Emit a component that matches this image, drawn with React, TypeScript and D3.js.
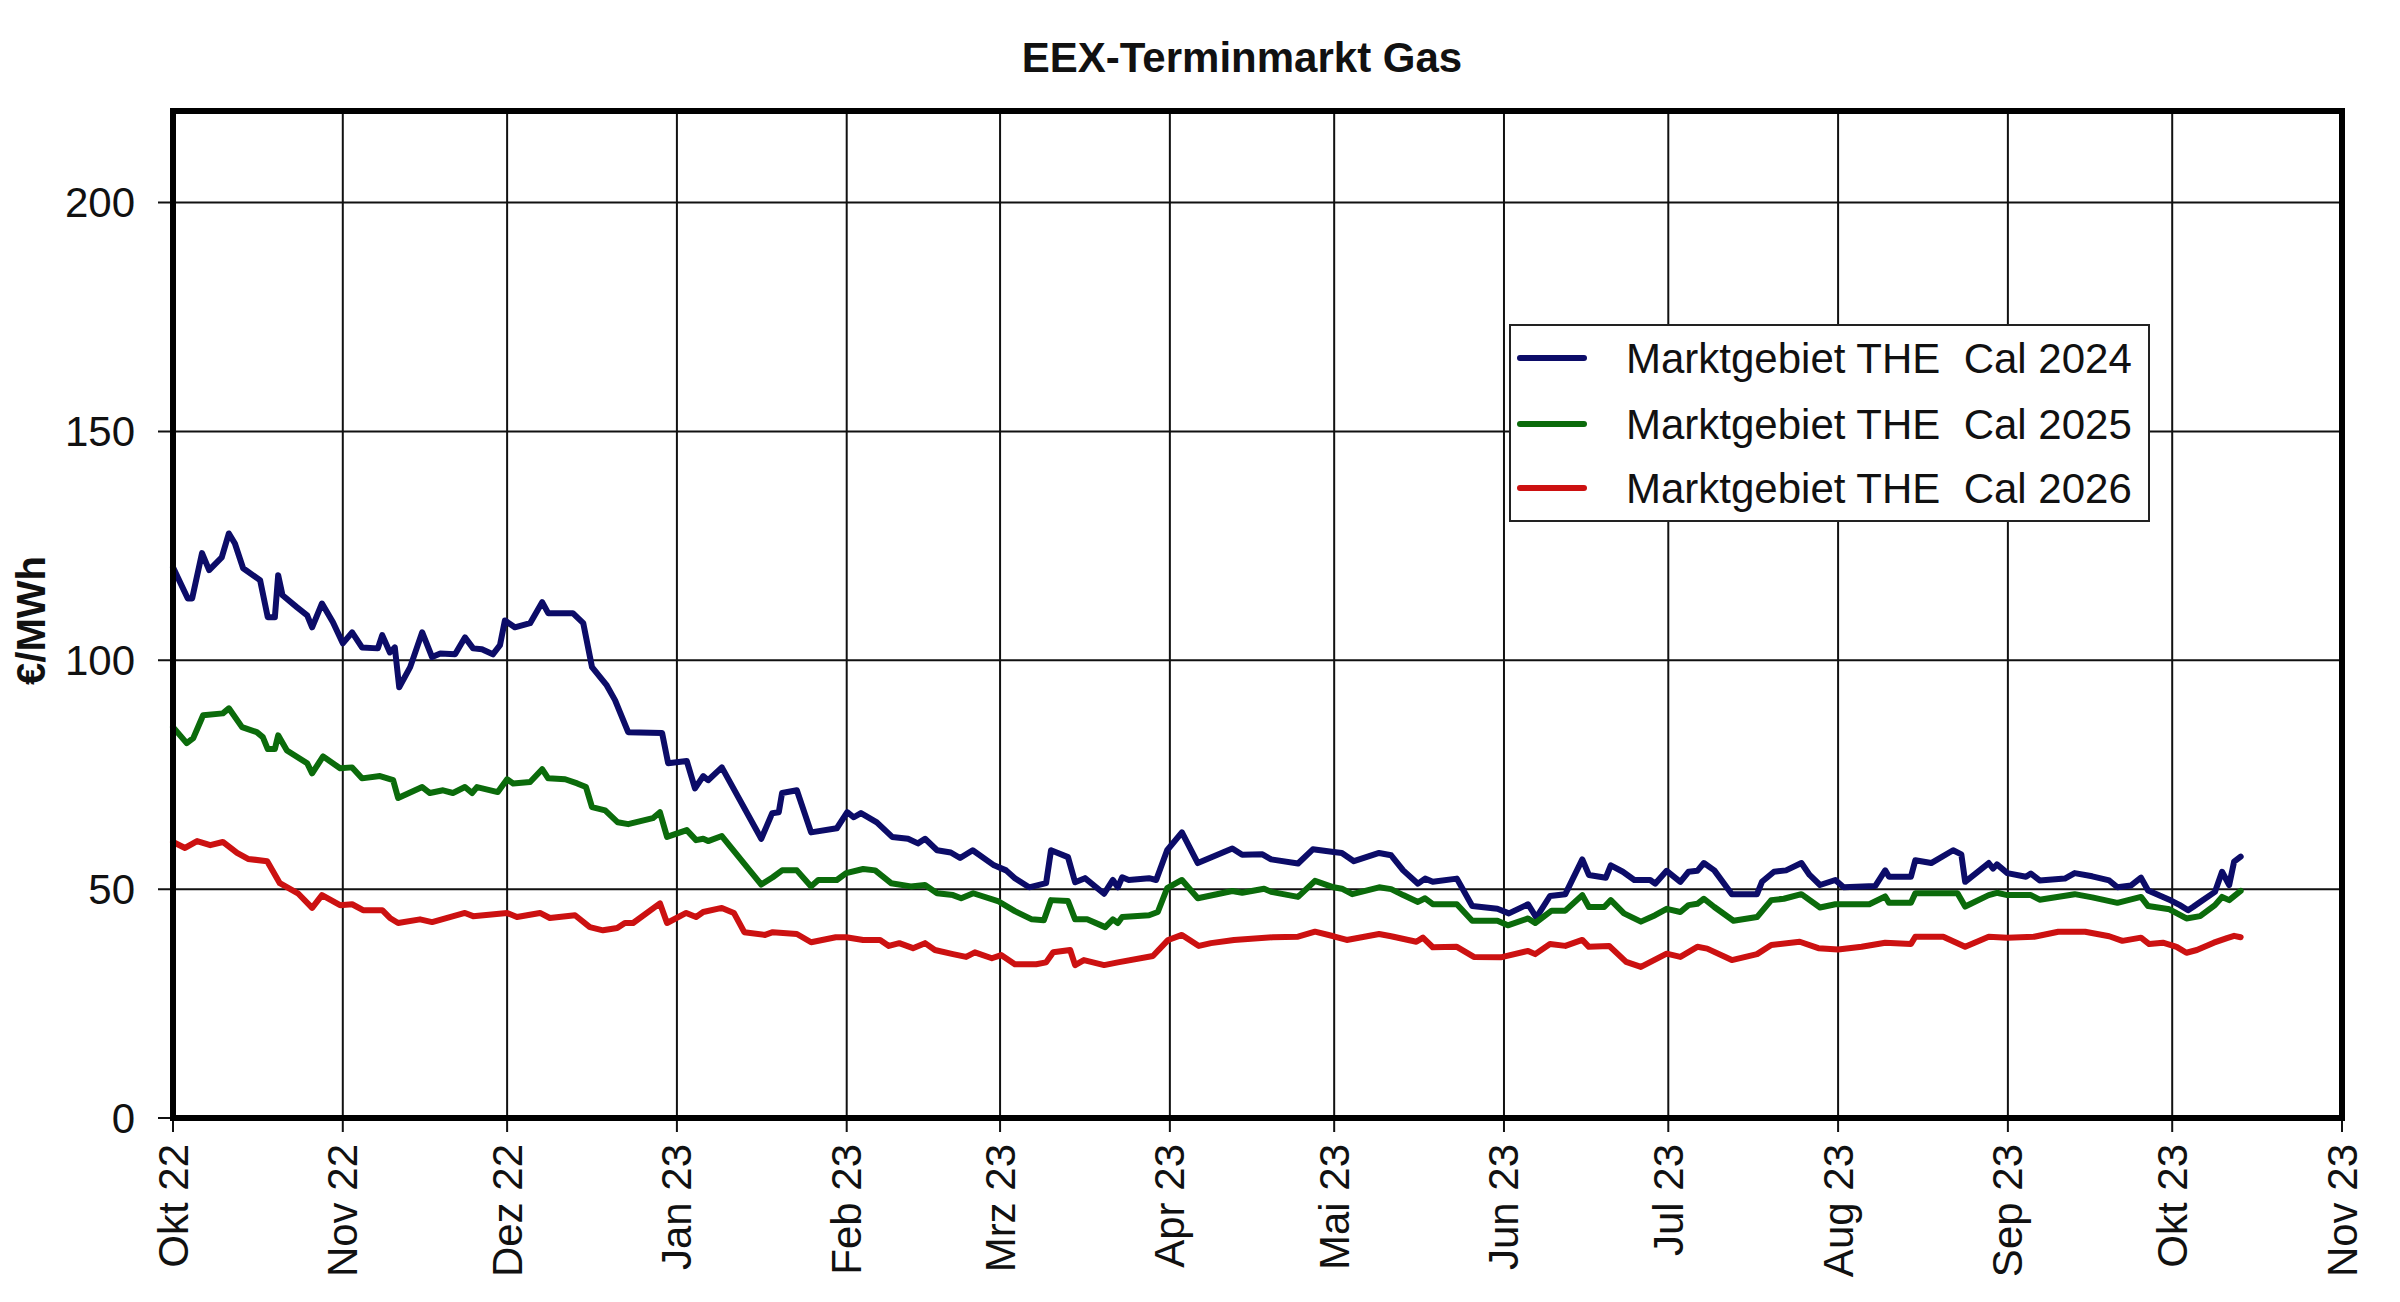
import * as d3 from "d3";

const W = 2400;
const H = 1302;
const FONT = '"Liberation Sans", Arial, Helvetica, sans-serif';

// x axis: one tick per month
const startDate = new Date(2022, 9, 1);
const endDate = new Date(2023, 10, 1);
const monthLabels = [
  "Okt 22", "Nov 22", "Dez 22", "Jan 23", "Feb 23", "Mrz 23", "Apr 23",
  "Mai 23", "Jun 23", "Jul 23", "Aug 23", "Sep 23", "Okt 23", "Nov 23",
];
const yTicks = [0, 50, 100, 150, 200];

const seriesNames = [
  "Marktgebiet THE  Cal 2024",
  "Marktgebiet THE  Cal 2025",
  "Marktgebiet THE  Cal 2026",
];
const seriesColors = ["#0c0c68", "#0b6b0b", "#cc1111"];

// [days since 1 Oct 2022, €/MWh]
const cal2024: [number, number][] = [
  [0, 120.3], [2.7, 113.5], [3.5, 113.5], [5.3, 123.4], [6.6, 119.7], [8.9, 122.5],
  [10.2, 127.7], [11.3, 125.5], [12.8, 120.1], [15.9, 117.5], [17.3, 109.4], [18.6, 109.4],
  [19.2, 118.6], [20, 114.2], [22.6, 111.6], [24.5, 109.8], [25.4, 107.2], [27.2, 112.4],
  [29.2, 108.3], [31, 103.7], [32.7, 106.1], [34.5, 102.8], [37.4, 102.6], [38.2, 105.5],
  [39.6, 101.7], [40.5, 102.8], [41.3, 94.1], [43.3, 98.5], [45.5, 106.1], [47.3, 100.7],
  [48.8, 101.5], [51.5, 101.3], [53.3, 105], [54.8, 102.6], [56.4, 102.4], [58.4, 101.3],
  [59.7, 103.3], [60.6, 108.7], [62.4, 107.2], [65.2, 108.1], [67.4, 112.7], [68.5, 110.3],
  [73, 110.3], [74.9, 108.1], [76.5, 98.5], [79.2, 94.5], [80.7, 91.3], [83.1, 84.3],
  [89.3, 84.1], [90.4, 77.5], [93.8, 78], [95.3, 72], [96.8, 74.7], [97.7, 73.8],
  [100.2, 76.6], [107.4, 61], [109.4, 66.6], [110.6, 66.8], [111.2, 71], [113.9, 71.6],
  [116.5, 62.4], [121.2, 63.3], [123.1, 66.8], [124.3, 65.7], [125.6, 66.6], [128.5, 64.6],
  [131.3, 61.4], [134.2, 61], [136, 60], [137.3, 61], [139.5, 58.5], [142, 58],
  [143.7, 56.8], [146, 58.5], [149.9, 55.2], [152.1, 54.1], [153.7, 52.4], [156.3, 50.4],
  [159.4, 51.3], [160.3, 58.5], [163.4, 57], [164.7, 51.5], [166.5, 52.4], [170, 49],
  [171.6, 52], [172.5, 50.4], [173.3, 52.6], [174.5, 52], [178.2, 52.4], [179.5, 52],
  [181.5, 58.5], [184.2, 62.4], [187.1, 55.7], [193.4, 58.9], [195.2, 57.5], [198.9, 57.6],
  [200.5, 56.5], [205.4, 55.6], [208.1, 58.7], [211.9, 58.1], [213.4, 57.9], [215.6, 56.1],
  [220.2, 57.9], [222.4, 57.4], [224.6, 54.1], [227.3, 51.2], [228.6, 52.3], [230, 51.6],
  [234.4, 52.3], [237.2, 46.3], [241.8, 45.7], [243.9, 44.7], [247.4, 46.7], [248.9, 43.8],
  [251.4, 48.5], [254.2, 48.9], [257.3, 56.5], [258.5, 53.1], [261.6, 52.5], [262.5, 55.2],
  [264.7, 53.8], [266.8, 52], [269.7, 52], [270.6, 51.2], [272.7, 54], [275.2, 51.6],
  [276.7, 53.8], [278.3, 54], [279.5, 55.7], [281.4, 54.1], [284.6, 48.9], [289.2, 48.9],
  [290.1, 51.6], [292.3, 53.8], [294.5, 54.1], [297.3, 55.7], [298.8, 53.1], [300.7, 50.9],
  [303.5, 52], [305, 50.4], [310.8, 50.7], [312.6, 54.1], [313.3, 52.7], [317.3, 52.7],
  [318.1, 56.3], [321, 55.7], [325, 58.5], [326.5, 57.6], [327.2, 51.6], [331.5, 55.7],
  [332.3, 54.5], [333, 55.4], [334.9, 53.5], [338.3, 52.7], [339.2, 53.4], [340.8, 51.9],
  [345.4, 52.3], [347.2, 53.5], [350.4, 52.8], [353.5, 51.9], [355, 50.4], [357.5, 50.8],
  [359.3, 52.5], [360.6, 49.7], [362.7, 48.6], [364.8, 47.5], [366.4, 46.5], [367.9, 45.4],
  [368.8, 46.1], [370.1, 47.2], [372.8, 49.4], [374.1, 53.8], [375.4, 50.9], [376.3, 56],
  [377.5, 57.1],
];

const cal2025: [number, number][] = [
  [0, 85.4], [2.5, 81.9], [3.7, 83], [5.5, 88], [9.1, 88.4], [10.2, 89.5],
  [12.6, 85.4], [15.3, 84.3], [16.4, 83.2], [17.3, 80.6], [18.6, 80.6], [19.2, 83.6],
  [20.8, 80.3], [24.5, 77.5], [25.4, 75.3], [27.4, 79], [30.5, 76.4], [32.7, 76.6],
  [34.5, 74.2], [37.8, 74.7], [40.2, 73.8], [41.1, 69.9], [45.5, 72.3], [46.9, 71],
  [49.3, 71.6], [51.1, 71], [53.3, 72.3], [54.6, 71], [55.5, 72.3], [59.3, 71.2],
  [61, 74], [62.1, 73.1], [65.2, 73.4], [67.4, 76.2], [68.5, 74.2], [71.6, 74],
  [73.8, 73.1], [75.4, 72.3], [76.5, 67.9], [78.9, 67.2], [81.2, 64.6], [83.1, 64.2],
  [87.6, 65.5], [88.9, 66.8], [90.2, 61.4], [93.8, 62.9], [95.5, 60.7], [96.8, 61],
  [97.7, 60.5], [100.2, 61.6], [107.4, 51], [109.5, 52.6], [111.2, 54.1], [113.9, 54.1],
  [116.5, 50.6], [117.8, 52], [121.2, 52], [122.9, 53.5], [126, 54.4], [128.2, 54.1],
  [131.1, 51.3], [134.7, 50.6], [137.3, 50.9], [139.5, 49.1], [142.4, 48.7], [143.9, 48],
  [146.1, 49.1], [150.6, 47.4], [153.7, 45.2], [156.8, 43.4], [159, 43.2], [160.3, 47.6],
  [163.4, 47.4], [164.7, 43.4], [166.9, 43.4], [170.2, 41.7], [171.6, 43.4], [172.5, 42.6],
  [173.3, 43.9], [178.2, 44.3], [179.8, 45], [181.5, 50.2], [184.2, 52], [187.1, 48],
  [193.4, 49.6], [195.2, 49.2], [199.2, 50.1], [200.5, 49.4], [205.4, 48.3], [208.5, 51.8],
  [211.9, 50.4], [213.4, 50.1], [215.3, 48.9], [220.2, 50.4], [222.4, 50], [224.6, 48.7],
  [227.3, 47.2], [228.6, 48], [230, 46.7], [234.4, 46.7], [237.2, 43.1], [241.8, 43.1],
  [243.7, 42.1], [247.4, 43.6], [248.7, 42.6], [251.7, 45.3], [254.2, 45.3], [257.3, 48.7],
  [258.5, 46.1], [261.3, 46.1], [262.5, 47.6], [264.9, 44.7], [268, 42.9], [270.6, 44.3],
  [272.7, 45.7], [275.2, 45], [276.7, 46.5], [278.3, 46.8], [279.5, 47.9], [281.4, 46.1],
  [284.9, 43.1], [289.2, 43.9], [291.8, 47.6], [294.1, 47.9], [297.3, 48.9], [300.7, 46],
  [303.5, 46.7], [309.7, 46.7], [312.6, 48.4], [313.3, 47], [317.3, 47], [318.1, 49.1],
  [325.8, 49.1], [327.2, 46.2], [331.5, 48.7], [333, 49.2], [334.9, 48.7], [339.2, 48.7],
  [340.8, 47.7], [347.2, 48.9], [350.4, 48.2], [355, 47], [359.3, 48.3], [360.6, 46.3],
  [364.5, 45.6], [367.6, 43.6], [370.1, 44.1], [372.8, 46.5], [374.1, 48.3], [375.4, 47.6],
  [377.5, 49.6],
];

const cal2026: [number, number][] = [
  [0, 60.3], [2.2, 59], [4.4, 60.5], [6.8, 59.6], [9.1, 60.3], [11.7, 57.9],
  [13.7, 56.6], [17.2, 56.1], [19.5, 51.3], [22.8, 49.1], [25.4, 45.9], [27.2, 48.7],
  [30.5, 46.5], [32.7, 46.7], [34.7, 45.4], [38.2, 45.4], [39.6, 43.7], [41.1, 42.6],
  [45.1, 43.4], [47.3, 42.8], [53.3, 44.8], [54.8, 44.1], [61, 44.8], [62.8, 43.9],
  [67, 44.8], [68.8, 43.7], [73.4, 44.3], [76.1, 41.7], [78.5, 41], [81.1, 41.5],
  [82.5, 42.6], [84, 42.6], [88.9, 46.9], [90.2, 42.6], [93.7, 44.8], [95.5, 43.9],
  [96.8, 45], [100.2, 45.9], [102.4, 44.8], [104.3, 40.6], [108.1, 40], [109.5, 40.6],
  [113.9, 40.2], [116.5, 38.4], [121, 39.5], [122.9, 39.5], [126, 38.9], [129.1, 38.9],
  [130.7, 37.6], [132.6, 38.2], [135.1, 37.1], [137.3, 38.2], [139.1, 36.7], [142.4, 35.8],
  [144.8, 35.2], [146.4, 36.2], [149.5, 34.9], [151.2, 35.6], [153.7, 33.6], [157.6, 33.6],
  [159.4, 34], [160.7, 36.2], [163.8, 36.7], [164.7, 33.4], [166.3, 34.5], [170, 33.4],
  [172.5, 34], [178.9, 35.4], [181.7, 38.9], [184.2, 40], [187.3, 37.6], [189.5, 38.2],
  [193.7, 38.9], [200.8, 39.5], [205.4, 39.6], [208.5, 40.7], [211.9, 39.7], [214.3, 38.9],
  [220.2, 40.2], [222.4, 39.7], [227, 38.5], [228.2, 39.4], [230, 37.3], [234.4, 37.4],
  [237.5, 35.2], [242.4, 35.1], [247.4, 36.5], [248.7, 35.8], [251.4, 38], [254.2, 37.6],
  [257.3, 38.9], [258.5, 37.4], [262.2, 37.6], [265.3, 34.1], [268, 33], [272.7, 35.9],
  [275.2, 35.2], [278.3, 37.4], [280.1, 37], [284.6, 34.5], [289.2, 35.8], [291.8, 37.8],
  [297, 38.5], [300.4, 37.1], [304, 36.8], [308.3, 37.4], [312.6, 38.3], [317.3, 38],
  [318.1, 39.6], [323.2, 39.6], [327.2, 37.4], [331.5, 39.6], [334.9, 39.4], [339.8, 39.6],
  [344.2, 40.7], [349.1, 40.7], [353.5, 39.7], [355.9, 38.7], [359.3, 39.4], [360.8, 38],
  [363.3, 38.3], [365.8, 37.4], [367.6, 36.1], [369.5, 36.7], [372.6, 38.3], [375, 39.3],
  [376.3, 39.8], [377.5, 39.5],
];

const allSeries = [cal2024, cal2025, cal2026];

const toDate = (days: number) => new Date(startDate.getTime() + days * 86400000);

export default function App() {
  const left = 173;
  const right = 2342;
  const top = 111;
  const bottom = 1118;

  const x = d3.scaleTime().domain([startDate, endDate]).range([left, right]);
  const y = d3.scaleLinear().domain([0, 220]).range([bottom, top]);

  const months = d3.timeMonth.range(startDate, d3.timeDay.offset(endDate, 1));

  const line = d3
    .line<[number, number]>()
    .x((d) => x(toDate(d[0])))
    .y((d) => y(d[1]));

  // legend box
  const lgX = 1510;
  const lgY = 325;
  const lgW = 639;
  const lgH = 196;
  const rowY = [358, 424, 488];

  return (
    <div style={{ position: "absolute", left: 0, top: 0 }}>
      <svg width={W} height={H} style={{ display: "block", background: "#fff" }}>
        <text
          x={1242}
          y={72}
          textAnchor="middle"
          fontFamily={FONT}
          fontWeight="bold"
          fontSize={42}
          fill="#111"
        >
          EEX-Terminmarkt Gas
        </text>

        {/* grid */}
        {months.map((m, i) => (
          <line
            key={"gx" + i}
            x1={x(m)}
            x2={x(m)}
            y1={top}
            y2={bottom + 14}
            stroke="#111"
            strokeWidth={2}
          />
        ))}
        {yTicks.map((t) => (
          <line
            key={"gy" + t}
            x1={left - 15}
            x2={right}
            y1={y(t)}
            y2={y(t)}
            stroke="#111"
            strokeWidth={2}
          />
        ))}

        {/* tick labels */}
        {yTicks.map((t) => (
          <text
            key={"ty" + t}
            x={135}
            y={y(t)}
            textAnchor="end"
            dominantBaseline="central"
            fontFamily={FONT}
            fontSize={42}
            fill="#111"
          >
            {t}
          </text>
        ))}
        {months.map((m, i) => (
          <text
            key={"tx" + i}
            transform={`translate(${x(m)},1144) rotate(-90)`}
            textAnchor="end"
            dominantBaseline="central"
            fontFamily={FONT}
            fontSize={42}
            fill="#111"
          >
            {monthLabels[i]}
          </text>
        ))}

        <text
          transform={`translate(31,${(top + bottom) / 2 + 6}) rotate(-90)`}
          textAnchor="middle"
          dominantBaseline="central"
          fontFamily={FONT}
          fontWeight="bold"
          fontSize={40}
          fill="#111"
        >
          €/MWh
        </text>

        {/* series */}
        {allSeries.map((s, i) => (
          <path
            key={"s" + i}
            d={line(s) ?? ""}
            fill="none"
            stroke={seriesColors[i]}
            strokeWidth={6}
            strokeLinejoin="round"
            strokeLinecap="round"
          />
        ))}

        {/* frame */}
        <rect
          x={left}
          y={top}
          width={right - left}
          height={bottom - top}
          fill="none"
          stroke="#000"
          strokeWidth={6}
        />

        {/* legend */}
        <rect x={lgX} y={lgY} width={lgW} height={lgH} fill="#fff" stroke="#222" strokeWidth={2} />
        {seriesNames.map((n, i) => (
          <g key={"lg" + i}>
            <line
              x1={1520}
              x2={1584}
              y1={rowY[i]}
              y2={rowY[i]}
              stroke={seriesColors[i]}
              strokeWidth={6}
              strokeLinecap="round"
            />
            <text
              x={1626}
              y={rowY[i]}
              dominantBaseline="central"
              fontFamily={FONT}
              fontSize={42}
              fill="#111"
              style={{ whiteSpace: "pre" }}
            >
              {n}
            </text>
          </g>
        ))}
      </svg>
    </div>
  );
}
